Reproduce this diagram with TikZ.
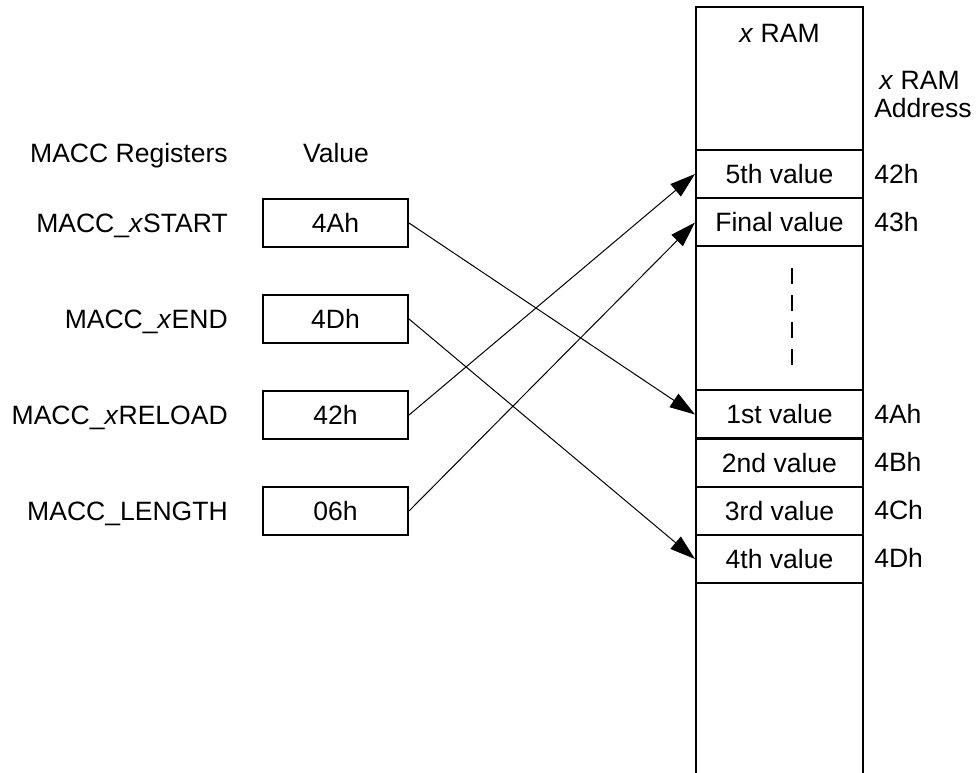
\documentclass[tikz,border=0pt]{standalone}
\usepackage{fontspec}
\setmainfont{Liberation Sans}
\usetikzlibrary{arrows.meta}
\begin{document}
\begin{tikzpicture}[x=0.75pt,y=-0.75pt,
  every node/.style={font=\fontsize{19.9pt}{24pt}\selectfont, inner sep=0pt},
  valbox/.style={draw, line width=1.5pt, minimum width=108.75pt, minimum height=36pt},
  ramrow/.style={draw, line width=1.5pt, minimum width=125.25pt, minimum height=36pt},
  link/.style={line width=0.75pt, -{Triangle[length=19pt,width=12pt]}},
  dashline/.style={line width=1.5pt, dash pattern=on 12pt off 8.25pt}]
\useasboundingbox (0,0) rectangle (976,773);
% headers
\node[anchor=base east] (hreg) at (228,163) {MACC Registers};
\node[anchor=base] (hval) at (336,163) {Value};
% register labels
\node[anchor=base east] (l1) at (228,233) {MACC\_\textit{x}START};
\node[anchor=base east] (l2) at (228,329) {MACC\_\textit{x}END};
\node[anchor=base east] (l3) at (228,425) {MACC\_\textit{x}RELOAD};
\node[anchor=base east] (l4) at (228,521) {MACC\_LENGTH};
% value boxes
\node[valbox] (b1) at (335.5,223) {4Ah};
\node[valbox] (b2) at (335.5,319) {4Dh};
\node[valbox] (b3) at (335.5,415) {42h};
\node[valbox] (b4) at (335.5,511) {06h};
% RAM column
\draw[line width=1.5pt] (696,775) -- (696,7) -- (863,7) -- (863,775);
\node[anchor=base] (ramt) at (779.5,43) {\textit{x} RAM};
\node[ramrow] (r5) at (779.5,174) {5th value};
\node[ramrow] (rf) at (779.5,222.5) {Final value};
\node[ramrow] (r1) at (779.5,414.5) {1st value};
\node[ramrow] (r2) at (779.5,463) {2nd value};
\node[ramrow] (r3) at (779.5,511) {3rd value};
\node[ramrow] (r4) at (779.5,559) {4th value};
\draw[dashline] (792,268) -- (792,370);
% address labels
\node[anchor=base west] (at1) at (879,90) {\textit{x} RAM};
\node[anchor=base west] (at2) at (874,118) {Address};
\node[anchor=base west] (a42) at (874,184) {42h};
\node[anchor=base west] (a43) at (874,232) {43h};
\node[anchor=base west] (a4a) at (874,424) {4Ah};
\node[anchor=base west] (a4b) at (874,472) {4Bh};
\node[anchor=base west] (a4c) at (874,520) {4Ch};
\node[anchor=base west] (a4d) at (874,568) {4Dh};
% connectors
\draw[link] (b1.east) -- (r1.west);
\draw[link] (b2.east) -- (r4.west);
\draw[link] (b3.east) -- (r5.west);
\draw[link] (b4.east) -- (rf.west);
\end{tikzpicture}
\end{document}
